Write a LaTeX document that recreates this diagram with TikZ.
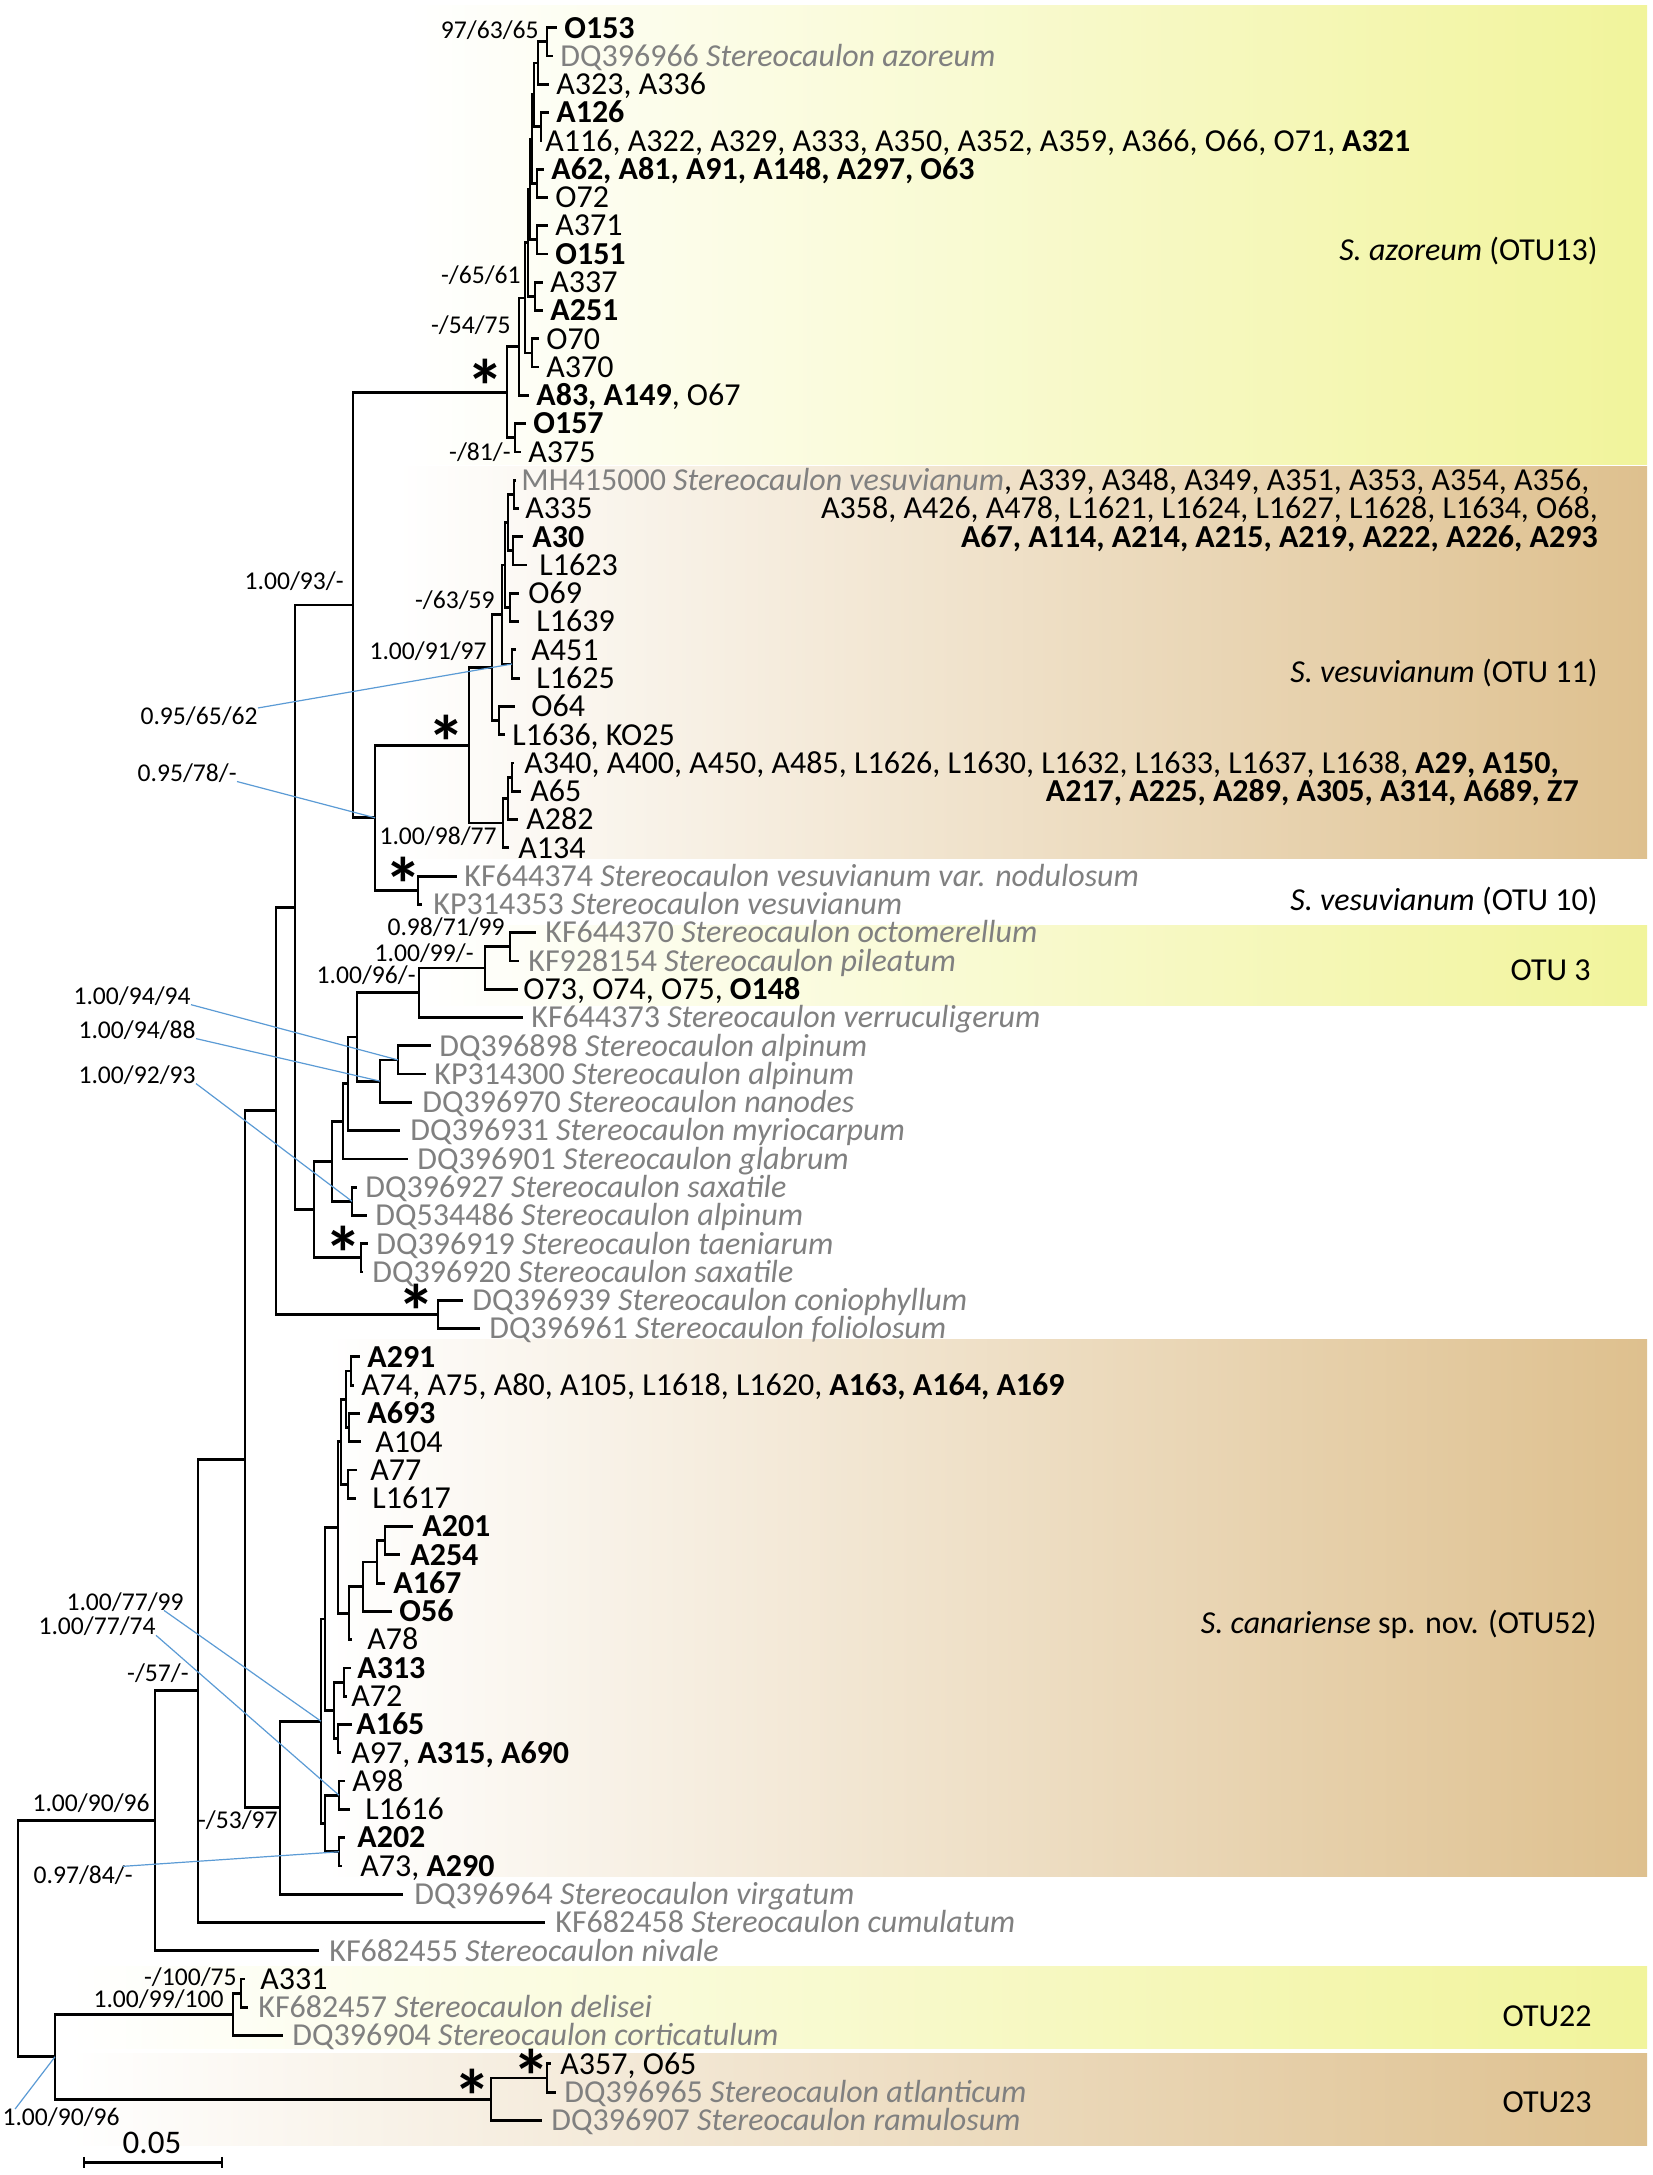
\documentclass[tikz,border=0pt]{standalone}
\usepackage{fontspec}
\setmainfont{Carlito}
\definecolor{yel}{RGB}{241,244,155}
\definecolor{tanc}{RGB}{222,192,142}
\definecolor{gtext}{RGB}{128,128,128}
\definecolor{leadc}{RGB}{91,155,213}
\newcommand{\twokids}[3]{\draw[br] (#1) |- (#2) (#1) |- (#3);}
\newcommand{\gr}[1]{{\color{gtext}#1}}
\newcommand{\astglyph}{\raisebox{-21pt}[0pt][0pt]{*}}
\begin{document}
\begin{tikzpicture}[x=0.5pt,y=-14.14pt,
  br/.style={line width=1.4pt,line join=miter},
  tl/.style={font=\fontsize{16}{16}\selectfont,anchor=west,inner sep=0pt,text height=10.3pt,text depth=0pt},
  tlg/.style={tl,text=gtext},
  tr/.style={tl,anchor=east},
  sl/.style={font=\fontsize{12.8}{12.8}\selectfont,anchor=east,inner sep=0pt,text height=8.24pt,text depth=0pt},
  astk/.style={font=\fontsize{38}{38}\selectfont\bfseries,anchor=center,inner sep=0pt,text height=6pt,text depth=6pt},
  leader/.style={draw=leadc,line width=0.6pt}]
\useasboundingbox (0,0.0205) rectangle (1653,76.93);
\fill[white] (0,0.0205) rectangle (1653,76.93);
% background boxes
\fill[left color=white,right color=yel] (408,0.23) rectangle (1647,16.46);
\fill[left color=white,right color=tanc] (398,16.53) rectangle (1647,30.36);
\fill[left color=white,right color=yel] (420,32.76) rectangle (1647,35.56);
\fill[left color=white,right color=tanc] (327,47.40) rectangle (1647,66.39);
\fill[left color=white,right color=yel] (70,69.57) rectangle (1647,72.47);
\fill[left color=white,right color=tanc] (70,72.65) rectangle (1647,75.87);

% tips
\coordinate (t1) at (557,1); \coordinate (t2) at (553,2); \coordinate (t3) at (549,3);
\coordinate (t4) at (549,4); \coordinate (t5) at (542,5); \coordinate (t6) at (544,6);
\coordinate (t7) at (548,7); \coordinate (t8) at (548,8); \coordinate (t9) at (548,9);
\coordinate (t10) at (543,10); \coordinate (t11) at (543,11); \coordinate (t12) at (539,12);
\coordinate (t13) at (539,13); \coordinate (t14) at (529,14); \coordinate (t15) at (526,15);
\coordinate (t16) at (521,16);
\coordinate (t17) at (516,17); \coordinate (t18) at (519,18); \coordinate (t19) at (523,19);
\coordinate (t20) at (527,20); \coordinate (t21) at (519,21); \coordinate (t22) at (519,22);
\coordinate (t23) at (516,23); \coordinate (t24) at (520,24); \coordinate (t25) at (515,25);
\coordinate (t26) at (505,26); \coordinate (t27) at (514,27); \coordinate (t28) at (521,28);
\coordinate (t29) at (518,29); \coordinate (t30) at (509,30); \coordinate (t31) at (457,31);
\coordinate (t32) at (422,32);
\coordinate (t33) at (536,33); \coordinate (t34) at (519,34); \coordinate (t35) at (518,35);
\coordinate (t36) at (523,36); \coordinate (t37) at (431,37); \coordinate (t38) at (426,38);
\coordinate (t39) at (412,39); \coordinate (t40) at (400,40); \coordinate (t41) at (408,41);
\coordinate (t42) at (357,42); \coordinate (t43) at (367,43); \coordinate (t44) at (368,44);
\coordinate (t45) at (363,45); \coordinate (t46) at (463,46); \coordinate (t47) at (480,47);
\coordinate (t48) at (360,48); \coordinate (t49) at (354,49); \coordinate (t50) at (360,50);
\coordinate (t51) at (361,51); \coordinate (t52) at (357,52); \coordinate (t53) at (356,53);
\coordinate (t54) at (413,54); \coordinate (t55) at (400,55); \coordinate (t56) at (385,56);
\coordinate (t57) at (392,57); \coordinate (t58) at (352,58); \coordinate (t59) at (351,59);
\coordinate (t60) at (347,60); \coordinate (t61) at (352,61); \coordinate (t62) at (341,62);
\coordinate (t63) at (345,63); \coordinate (t64) at (350,64); \coordinate (t65) at (345,65);
\coordinate (t66) at (342,66); \coordinate (t67) at (403,67); \coordinate (t68) at (545,68);
\coordinate (t69) at (319,69); \coordinate (t70) at (245,70); \coordinate (t71) at (248,71);
\coordinate (t72) at (283,72); \coordinate (t73) at (551,73); \coordinate (t74) at (556,74);
\coordinate (t75) at (542,75);

% internal nodes
\coordinate (pO153) at (547,1.5);
\coordinate (n7) at (538,2.25);
\coordinate (pA126) at (541,4.5);
\coordinate (n6) at (534,3.375);
\coordinate (pA62) at (537,6.5);
\coordinate (n5) at (532,4.9375);
\coordinate (pA371) at (537,8.5);
\coordinate (n4) at (530,6.719);
\coordinate (pA337) at (535,10.5);
\coordinate (n3) at (528,8.609);
\coordinate (pO70) at (532,12.5);
\coordinate (n2) at (525,10.555);
\coordinate (n1) at (519,12.277);
\coordinate (pO157) at (515,15.5);
\coordinate (raz) at (507,13.889);
\coordinate (pMH) at (514,17.5);
\coordinate (pA30) at (513,19.5);
\coordinate (v1) at (508,18.5);
\coordinate (pO69) at (510,21.5);
\coordinate (v2) at (505,20);
\coordinate (pA451) at (512,23.5);
\coordinate (v3) at (502,21.75);
\coordinate (pO64) at (499,25.5);
\coordinate (v4) at (492,23.625);
\coordinate (pA340) at (512,27.5);
\coordinate (v5) at (508,28.25);
\coordinate (v6) at (503,29.125);
\coordinate (v7) at (469,26.375);
\coordinate (pKF374) at (418,31.5);
\coordinate (v8) at (375,28.9375);
\coordinate (b353) at (353,21.413);
\coordinate (pKF370) at (510,33.5);
\coordinate (o1) at (485,34.25);
\coordinate (o2) at (419,35.125);
\coordinate (pDQ898) at (398,37.5);
\coordinate (a1) at (380,38.25);
\coordinate (a2) at (357,36.6875);
\coordinate (a3) at (348,38.344);
\coordinate (a4) at (343,39.672);
\coordinate (pDQ927) at (352,42.5);
\coordinate (a5) at (332,41.086);
\coordinate (pDQ919) at (361,44.5);
\coordinate (a6) at (314,42.793);
\coordinate (b295) at (295,32.103);
\coordinate (pDQ939) at (438,46.5);
\coordinate (b276) at (276,39.30);
\coordinate (c1) at (351,48.5);
\coordinate (c2) at (349,50.5);
\coordinate (ca) at (346,49.5);
\coordinate (c3) at (348,52.5);
\coordinate (cb) at (341,51);
\coordinate (c4) at (385,54.5);
\coordinate (cc) at (377,55.25);
\coordinate (cd) at (363,56.125);
\coordinate (ce) at (349,57.0625);
\coordinate (cf) at (338,54.031);
\coordinate (c5) at (344,59.5);
\coordinate (c6) at (338,61.5);
\coordinate (cg) at (334,60.5);
\coordinate (ch) at (325,57.266);
\coordinate (c7) at (339,63.5);
\coordinate (c8) at (339,65.5);
\coordinate (ci) at (325,64.5);
\coordinate (cj) at (321,60.883);
\coordinate (b280) at (280,63.94);
\coordinate (b245) at (245,51.62);
\coordinate (b198) at (198,59.81);
\coordinate (b155) at (155,64.405);
\coordinate (pA331) at (241,70.5);
\coordinate (b233) at (233,71.25);
\coordinate (pA357) at (547,73.5);
\coordinate (b491) at (491,74.25);
\coordinate (b55) at (55,72.75);
\coordinate (root) at (18,68.58);

% branches
\twokids{pO153}{t1}{t2}
\twokids{n7}{pO153}{t3}
\twokids{pA126}{t4}{t5}
\twokids{n6}{n7}{pA126}
\twokids{pA62}{t6}{t7}
\twokids{n5}{n6}{pA62}
\twokids{pA371}{t8}{t9}
\twokids{n4}{n5}{pA371}
\twokids{pA337}{t10}{t11}
\twokids{n3}{n4}{pA337}
\twokids{pO70}{t12}{t13}
\twokids{n2}{n3}{pO70}
\twokids{n1}{n2}{t14}
\twokids{pO157}{t15}{t16}
\twokids{raz}{n1}{pO157}
\twokids{pMH}{t17}{t18}
\twokids{pA30}{t19}{t20}
\twokids{v1}{pMH}{pA30}
\twokids{pO69}{t21}{t22}
\twokids{v2}{v1}{pO69}
\twokids{pA451}{t23}{t24}
\twokids{v3}{v2}{pA451}
\twokids{pO64}{t25}{t26}
\twokids{v4}{v3}{pO64}
\twokids{pA340}{t27}{t28}
\twokids{v5}{pA340}{t29}
\twokids{v6}{v5}{t30}
\twokids{v7}{v4}{v6}
\twokids{pKF374}{t31}{t32}
\twokids{v8}{v7}{pKF374}
\twokids{b353}{raz}{v8}
\twokids{pKF370}{t33}{t34}
\twokids{o1}{pKF370}{t35}
\twokids{o2}{o1}{t36}
\twokids{pDQ898}{t37}{t38}
\twokids{a1}{pDQ898}{t39}
\twokids{a2}{o2}{a1}
\twokids{a3}{a2}{t40}
\twokids{a4}{a3}{t41}
\twokids{pDQ927}{t42}{t43}
\twokids{a5}{a4}{pDQ927}
\twokids{pDQ919}{t44}{t45}
\twokids{a6}{a5}{pDQ919}
\twokids{b295}{b353}{a6}
\twokids{pDQ939}{t46}{t47}
\twokids{b276}{b295}{pDQ939}
\twokids{c1}{t48}{t49}
\twokids{c2}{t50}{t51}
\twokids{ca}{c1}{c2}
\twokids{c3}{t52}{t53}
\twokids{cb}{ca}{c3}
\twokids{c4}{t54}{t55}
\twokids{cc}{c4}{t56}
\twokids{cd}{cc}{t57}
\twokids{ce}{cd}{t58}
\twokids{cf}{cb}{ce}
\twokids{c5}{t59}{t60}
\twokids{c6}{t61}{t62}
\twokids{cg}{c5}{c6}
\twokids{ch}{cf}{cg}
\twokids{c7}{t63}{t64}
\twokids{c8}{t65}{t66}
\twokids{ci}{c7}{c8}
\twokids{cj}{ch}{ci}
\twokids{b280}{cj}{t67}
\twokids{b245}{b276}{b280}
\twokids{b198}{b245}{t68}
\twokids{b155}{b198}{t69}
\twokids{pA331}{t70}{t71}
\twokids{b233}{pA331}{t72}
\twokids{pA357}{t73}{t74}
\twokids{b491}{pA357}{t75}
\twokids{b55}{b233}{b491}
\twokids{root}{b155}{b55}

% tip labels
\node[tl] (l1) at (564,1) {\textbf{O153}};
\node[tlg] (l2) at (560,2) {DQ396966 \textit{Stereocaulon azoreum}};
\node[tl] (l3) at (556,3) {A323, A336};
\node[tl] (l4) at (556,4) {\textbf{A126}};
\node[tl] (l5) at (545,5) {A116, A322, A329, A333, A350, A352, A359, A366, O66, O71, \textbf{A321}};
\node[tl] (l6) at (551,6) {\textbf{A62, A81, A91, A148, A297, O63}};
\node[tl] (l7) at (555,7) {O72};
\node[tl] (l8) at (555,8) {A371};
\node[tl] (l9) at (555,9) {\textbf{O151}};
\node[tl] (l10) at (550,10) {A337};
\node[tl] (l11) at (550,11) {\textbf{A251}};
\node[tl] (l12) at (546,12) {O70};
\node[tl] (l13) at (546,13) {A370};
\node[tl] (l14) at (536,14) {\textbf{A83, A149}, O67};
\node[tl] (l15) at (533,15) {\textbf{O157}};
\node[tl] (l16) at (528,16) {A375};
\node[tl] (l17) at (521,17) {\gr{MH415000 \textit{Stereocaulon vesuvianum}}, A339, A348, A349, A351, A353, A354, A356,};
\node[tl] (l18) at (525,18) {A335};
\node[tr] (l18b) at (1598,18) {A358, A426, A478, L1621, L1624, L1627, L1628, L1634, O68,};
\node[tl] (l19) at (532,19) {\textbf{A30}};
\node[tr] (l19b) at (1598,19) {\textbf{A67, A114, A214, A215, A219, A222, A226, A293}};
\node[tl] (l20) at (539,20) {L1623};
\node[tl] (l21) at (528,21) {O69};
\node[tl] (l22) at (536,22) {L1639};
\node[tl] (l23) at (531,23) {A451};
\node[tl] (l24) at (536,24) {L1625};
\node[tl] (l25) at (531,25) {O64};
\node[tl] (l26) at (512,26) {L1636, KO25};
\node[tl] (l27) at (524,27) {A340, A400, A450, A485, L1626, L1630, L1632, L1633, L1637, L1638, \textbf{A29, A150,}};
\node[tl] (l28) at (530,28) {A65};
\node[tr] (l28b) at (1579,28) {\textbf{A217, A225, A289, A305, A314, A689, Z7}};
\node[tl] (l29) at (526,29) {A282};
\node[tl] (l30) at (518,30) {A134};
\node[tlg] (l31) at (464,31) {KF644374 \textit{Stereocaulon vesuvianum var. nodulosum}};
\node[tlg] (l32) at (433,32) {KP314353 \textit{Stereocaulon vesuvianum}};
\node[tlg] (l33) at (545,33) {KF644370 \textit{Stereocaulon octomerellum}};
\node[tlg] (l34) at (528,34) {KF928154 \textit{Stereocaulon pileatum}};
\node[tl] (l35) at (523,35) {O73, O74, O75, \textbf{O148}};
\node[tlg] (l36) at (531,36) {KF644373 \textit{Stereocaulon verruculigerum}};
\node[tlg] (l37) at (439,37) {DQ396898 \textit{Stereocaulon alpinum}};
\node[tlg] (l38) at (434,38) {KP314300 \textit{Stereocaulon alpinum}};
\node[tlg] (l39) at (422,39) {DQ396970 \textit{Stereocaulon nanodes}};
\node[tlg] (l40) at (410,40) {DQ396931 \textit{Stereocaulon myriocarpum}};
\node[tlg] (l41) at (417,41) {DQ396901 \textit{Stereocaulon glabrum}};
\node[tlg] (l42) at (365,42) {DQ396927 \textit{Stereocaulon saxatile}};
\node[tlg] (l43) at (375,43) {DQ534486 \textit{Stereocaulon alpinum}};
\node[tlg] (l44) at (376,44) {DQ396919 \textit{Stereocaulon taeniarum}};
\node[tlg] (l45) at (372,45) {DQ396920 \textit{Stereocaulon saxatile}};
\node[tlg] (l46) at (472,46) {DQ396939 \textit{Stereocaulon coniophyllum}};
\node[tlg] (l47) at (489,47) {DQ396961 \textit{Stereocaulon foliolosum}};
\node[tl] (l48) at (367,48) {\textbf{A291}};
\node[tl] (l49) at (361,49) {A74, A75, A80, A105, L1618, L1620, \textbf{A163, A164, A169}};
\node[tl] (l50) at (367,50) {\textbf{A693}};
\node[tl] (l51) at (375,51) {A104};
\node[tl] (l52) at (370,52) {A77};
\node[tl] (l53) at (372,53) {L1617};
\node[tl] (l54) at (422,54) {\textbf{A201}};
\node[tl] (l55) at (410,55) {\textbf{A254}};
\node[tl] (l56) at (393,56) {\textbf{A167}};
\node[tl] (l57) at (399,57) {\textbf{O56}};
\node[tl] (l58) at (367,58) {A78};
\node[tl] (l59) at (357,59) {\textbf{A313}};
\node[tl] (l60) at (351,60) {A72};
\node[tl] (l61) at (356,61) {\textbf{A165}};
\node[tl] (l62) at (351,62) {A97, \textbf{A315, A690}};
\node[tl] (l63) at (352,63) {A98};
\node[tl] (l64) at (365,64) {L1616};
\node[tl] (l65) at (357,65) {\textbf{A202}};
\node[tl] (l66) at (360,66) {A73, \textbf{A290}};
\node[tlg] (l67) at (414,67) {DQ396964 \textit{Stereocaulon virgatum}};
\node[tlg] (l68) at (555,68) {KF682458 \textit{Stereocaulon cumulatum}};
\node[tlg] (l69) at (329,69) {KF682455 \textit{Stereocaulon nivale}};
\node[tl] (l70) at (260,70) {A331};
\node[tlg] (l71) at (258,71) {KF682457 \textit{Stereocaulon delisei}};
\node[tlg] (l72) at (292,72) {DQ396904 \textit{Stereocaulon corticatulum}};
\node[tl] (l73) at (560,73) {A357, O65};
\node[tlg] (l74) at (564,74) {DQ396965 \textit{Stereocaulon atlanticum}};
\node[tlg] (l75) at (551,75) {DQ396907 \textit{Stereocaulon ramulosum}};

% group labels
\node[tr] (g1) at (1598,8.86) {\textit{S. azoreum} (OTU13)};
\node[tr] (g2) at (1598,23.8) {\textit{S. vesuvianum} (OTU 11)};
\node[tr] (g3) at (1598,31.84) {\textit{S. vesuvianum} (OTU 10)};
\node[tr] (g4) at (1591,34.32) {OTU 3};
\node[tr] (g5) at (1597,57.4) {\textit{S. canariense} sp. nov. (OTU52)};
\node[tr] (g6) at (1592,71.3) {OTU22};
\node[tr] (g7) at (1592,74.35) {OTU23};

% support values
\node[sl] (s1) at (539,1.08) {97/63/65};
\node[sl] (s2) at (521,9.74) {-/65/61};
\node[sl] (s3) at (511,11.51) {-/54/75};
\node[sl] (s4) at (511,16.0) {-/81/-};
\node[sl] (s5) at (344,20.59) {1.00/93/-};
\node[sl] (s6) at (495,21.24) {-/63/59};
\node[sl] (s7) at (487,23.06) {1.00/91/97};
\node[sl] (s8) at (258,25.36) {0.95/65/62};
\node[sl] (s9) at (237,27.35) {0.95/78/-};
\node[sl] (s10) at (497,29.6) {1.00/98/77};
\node[sl] (s11) at (505,32.80) {0.98/71/99};
\node[sl] (s12) at (474,33.72) {1.00/99/-};
\node[sl] (s13) at (416,34.5) {1.00/96/-};
\node[sl] (s14) at (191,35.24) {1.00/94/94};
\node[sl] (s15) at (196,36.44) {1.00/94/88};
\node[sl] (s16) at (196,38.03) {1.00/92/93};
\node[sl] (s17) at (184,56.66) {1.00/77/99};
\node[sl] (s18) at (156,57.54) {1.00/77/74};
\node[sl] (s19) at (189,59.18) {-/57/-};
\node[sl] (s20) at (150,63.78) {1.00/90/96};
\node[sl] (s21) at (278,64.37) {-/53/97};
\node[sl] (s22) at (133,66.32) {0.97/84/-};
\node[sl] (s23) at (237,69.93) {-/100/75};
\node[sl] (s24) at (224,70.70) {1.00/99/100};
\node[sl] (s25) at (120,74.9) {1.00/90/96};

% asterisks
\node[astk] (k1) at (485,13.17) {\astglyph};
\node[astk] (k2) at (446,25.76) {\astglyph};
\node[astk] (k3) at (403,30.78) {\astglyph};
\node[astk] (k4) at (343,43.8) {\astglyph};
\node[astk] (k5) at (416,45.88) {\astglyph};
\node[astk] (k6) at (472,73.64) {\astglyph};
\node[astk] (k7) at (531,72.93) {\astglyph};

% leader lines
\draw[leader] (s8.north east) -- (pA451);
\draw[leader] (s9.south east) -- (v8);
\draw[leader] (s14.south east) -- (pDQ898);
\draw[leader] (s15.south east) -- (a1);
\draw[leader] (s16.south east) -- (pDQ927);
\draw[leader] ([xshift=-10pt]s17.south east) -- (cj);
\draw[leader] (s18.south east) -- (c7);
\draw[leader] ([xshift=-5pt]s22.north east) -- (c8);
\draw[leader] ([xshift=6.5pt]s25.north west) -- (b55);

% scale bar
\coordinate (sb1) at (84,76.5);
\coordinate (sb2) at (222,76.5);
\draw[br] (sb1) -- (sb2);
\draw[br] ([yshift=3pt]sb1) -- ([yshift=-2.6pt]sb1);
\draw[br] ([yshift=3pt]sb2) -- ([yshift=-2.6pt]sb2);
\node[font=\fontsize{16.5}{16.5}\selectfont,inner sep=0pt,text height=10.6pt,text depth=0pt] (sbl) at (152,75.8) {0.05};
\end{tikzpicture}
\end{document}
